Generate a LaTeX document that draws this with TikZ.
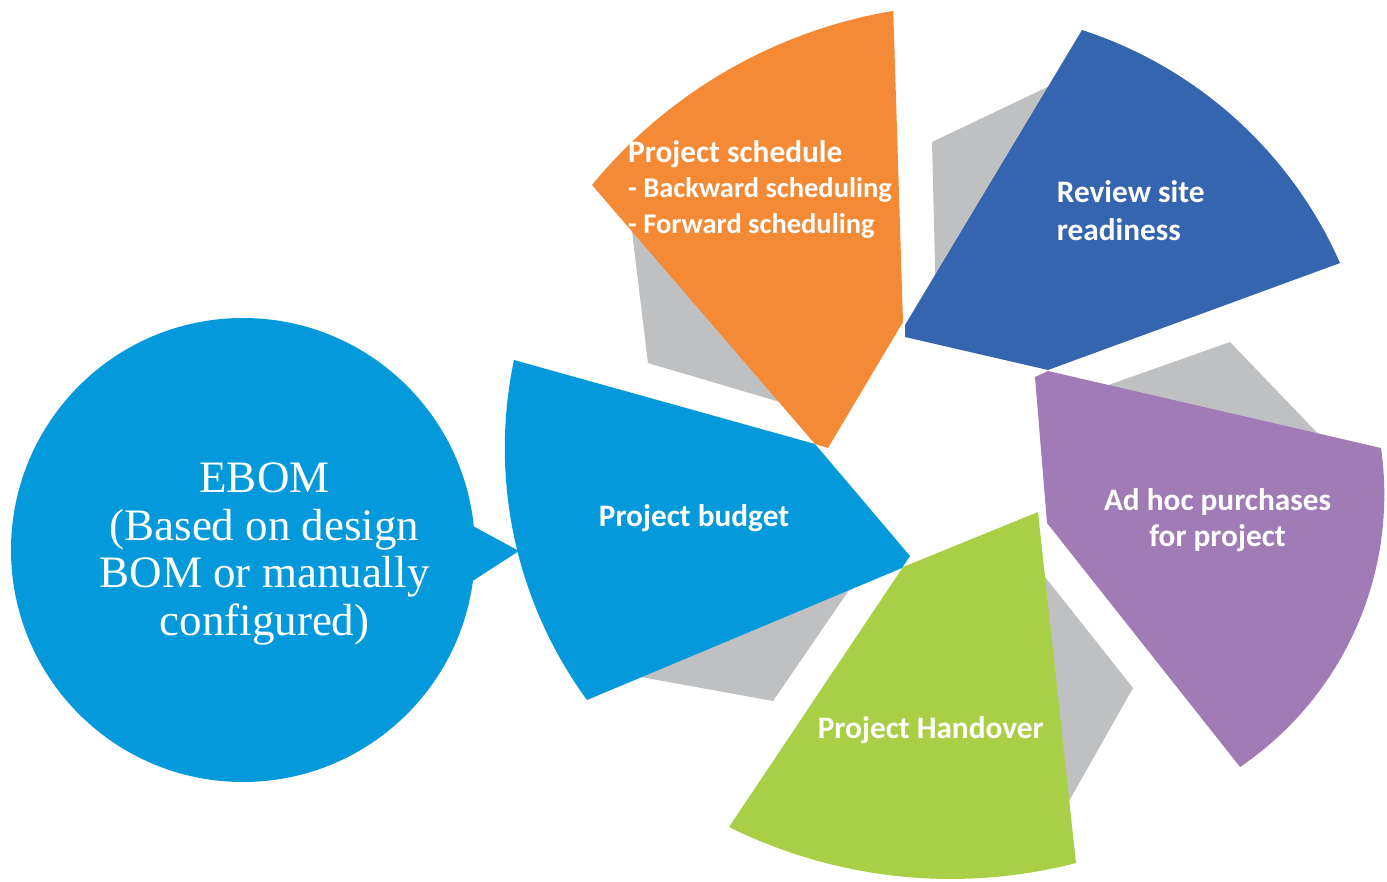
\documentclass[tikz,border=0pt]{standalone}
\usepackage{fontspec}
\setmainfont{Liberation Serif}
\newfontfamily\calfont{Carlito}
\definecolor{bomblue}{HTML}{0399DA}
\definecolor{schedorange}{HTML}{F58A36}
\definecolor{siteblue}{HTML}{3665AF}
\definecolor{buypurple}{HTML}{A17BB6}
\definecolor{handgreen}{HTML}{A9CF46}
\definecolor{backgray}{HTML}{BFC0C2}
\newcommand{\subline}[1]{{\fontsize{28.5}{35.5}\selectfont #1}}

\begin{document}
\begin{tikzpicture}[x=1pt, y=-1pt,
    back/.style={fill=backgray},
    lbl/.style={text=white, inner sep=0pt, font=\calfont\bfseries\fontsize{31.3}{35.5}\selectfont}]
  \useasboundingbox (0,0) rectangle (1387,882);

  % grey pieces behind the wheel
  \fill[back] (630,215) -- (648,363) -- (790,405) -- (800,300) -- cycle;
  \fill[back] (1060,81) -- (932,142) -- (935.4,280) -- (1060,200) -- cycle;
  \fill[back] (1100,388) -- (1230,342) -- (1325,441) -- (1200,450) -- cycle;
  \fill[back] (1043.5,575) -- (1133,688) -- (1064,810) -- (1040,700) -- cycle;
  \fill[back] (856,580) -- (773,701) -- (630,675) -- (750,600) -- cycle;

  % wheel pieces
  \fill[schedorange] (592,185) arc[start angle=-140.58, end angle=-99.47, radius=495.5]
    -- (903,322) -- (828,448) -- (815,444) -- cycle;
  \fill[siteblue] (1082,30) arc[start angle=-72, end angle=-23.83, radius=426]
    -- (1048,370) -- (905,337) -- (905,325) -- cycle;
  \fill[buypurple] (1035,377) -- (1048,371) -- (1381,448)
    arc[start angle=-8.14, end angle=55.83, radius=329.2] -- (1047,523) -- cycle;
  \fill[handgreen] (1038,512) -- (1076,863)
    arc[start angle=75.48, end angle=116.37, radius=499.4] -- (903,567) -- cycle;
  \fill[bomblue] (514,360) -- (815,444) -- (910,556) -- (902,568) -- (587,700)
    arc[start angle=143.85, end angle=191.89, radius=427] -- cycle;

  % EBOM bubble
  \fill[bomblue] (243,550) circle (232);
  \fill[bomblue] (460,519) -- (519,551) -- (460,589) -- cycle;

  \node [text=white, inner sep=0pt, align=center, anchor=base,
    font=\fontsize{45}{47.5}\selectfont] (ebom) at (264.5,635)
    {EBOM\\(Based on design\\BOM or manually\\configured)};

  \node [lbl, align=left, anchor=base west] (schedule) at (628,233.3)
    {Project schedule\\\subline{- Backward scheduling}\\\subline{- Forward scheduling}};
  \node [lbl, align=left, anchor=base west] (review) at (1056.7,240.7)
    {Review site\\[2.5pt]readiness};
  \node [lbl, align=center, anchor=base] (adhoc) at (1217.5,546.7)
    {Ad hoc purchases\\[1.2pt]for project};
  \node [lbl, anchor=base] (handover) at (930.8,738.3) {Project Handover};
  \node [lbl, anchor=base] (budget) at (694,526) {Project budget};
\end{tikzpicture}
\end{document}
